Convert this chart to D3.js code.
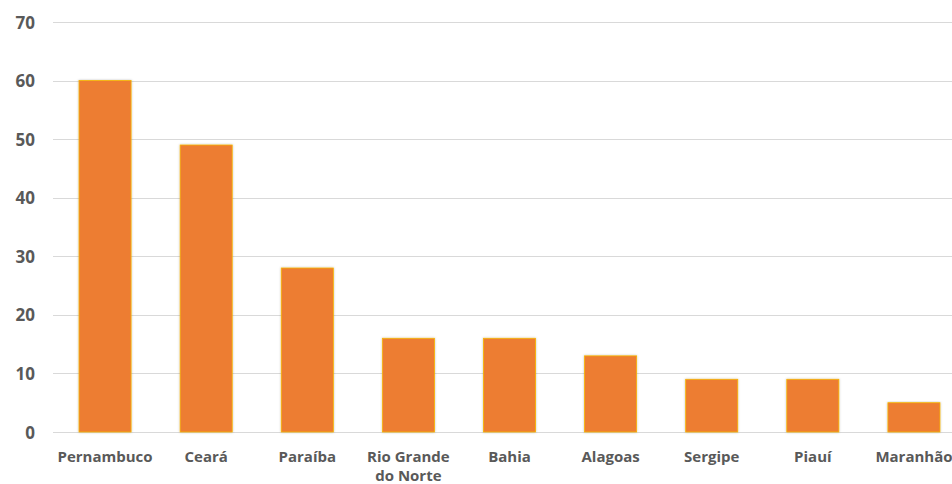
<!DOCTYPE html>
<html><head><meta charset="utf-8">
<script src="https://cdn.jsdelivr.net/npm/d3@7"></script>
<style>body{margin:0;background:#fff}svg{display:block}</style>
</head><body>
<svg id="chart" width="952" height="484"></svg>
<script>
const categories = ["Pernambuco","Ceará","Paraíba","Rio Grande do Norte","Bahia","Alagoas","Sergipe","Piauí","Maranhão"];
const values = [60,49,28,16,16,13,9,9,5];
const yTicks = [0,10,20,30,40,50,60,70];

const svg = d3.select("#chart");
const W = 952, H = 484;
const x = d3.scaleBand().domain(categories).range([54.5, 964.5]).paddingInner(0.485).paddingOuter(0.2425);
const y = d3.scaleLinear().domain([0,70]).range([432, 22]);

const defs = svg.append("defs");
const f = defs.append("filter").attr("id","sh").attr("x","-20%").attr("y","-5%").attr("width","140%").attr("height","110%");
f.append("feDropShadow").attr("dx",0).attr("dy",0).attr("stdDeviation",1.2).attr("flood-color","#000").attr("flood-opacity",0.25);

const g = svg.append("g");
g.selectAll("line.grid").data(yTicks).join("line")
  .attr("x1",53).attr("x2",W).attr("y1",d=>Math.round(y(d))+0.5).attr("y2",d=>Math.round(y(d))+0.5)
  .attr("stroke","#D9D9D9").attr("stroke-width",1);

const yAxis = d3.axisLeft(y).tickValues(yTicks).tickSize(0).tickPadding(0);
const ya = svg.append("g").attr("transform","translate(35,0)").call(yAxis);
ya.select(".domain").remove();
ya.selectAll("text").attr("font-family","'Open Sans', sans-serif").attr("font-weight","bold")
  .attr("font-size","17px").attr("fill","#595959").attr("dy","0.36em");

g.selectAll("rect.bar").data(values).join("rect")
  .attr("x",(d,i)=>x(categories[i])).attr("width",x.bandwidth())
  .attr("y",d=>y(d)).attr("height",d=>y(0)-y(d))
  .attr("fill","#ED7D31").attr("stroke","#F7B500").attr("stroke-width",0.8)
  .attr("filter","url(#sh)");

const xa = svg.append("g").attr("transform","translate(0,432)")
  .call(d3.axisBottom(x).tickSize(0).tickPadding(0));
xa.select(".domain").remove();
xa.selectAll("text").attr("font-family","'Open Sans', sans-serif").attr("font-weight","bold")
  .attr("font-size","15px").attr("fill","#595959").attr("dy",null).attr("y",null).text(null)
  .each(function(d){
    const t = d3.select(this);
    const lines = d === "Rio Grande do Norte" ? ["Rio Grande","do Norte"] : [d];
    lines.forEach((l,i)=>t.append("tspan").attr("x",0).attr("y",30+i*19).text(l));
  });
</script>
</body></html>
